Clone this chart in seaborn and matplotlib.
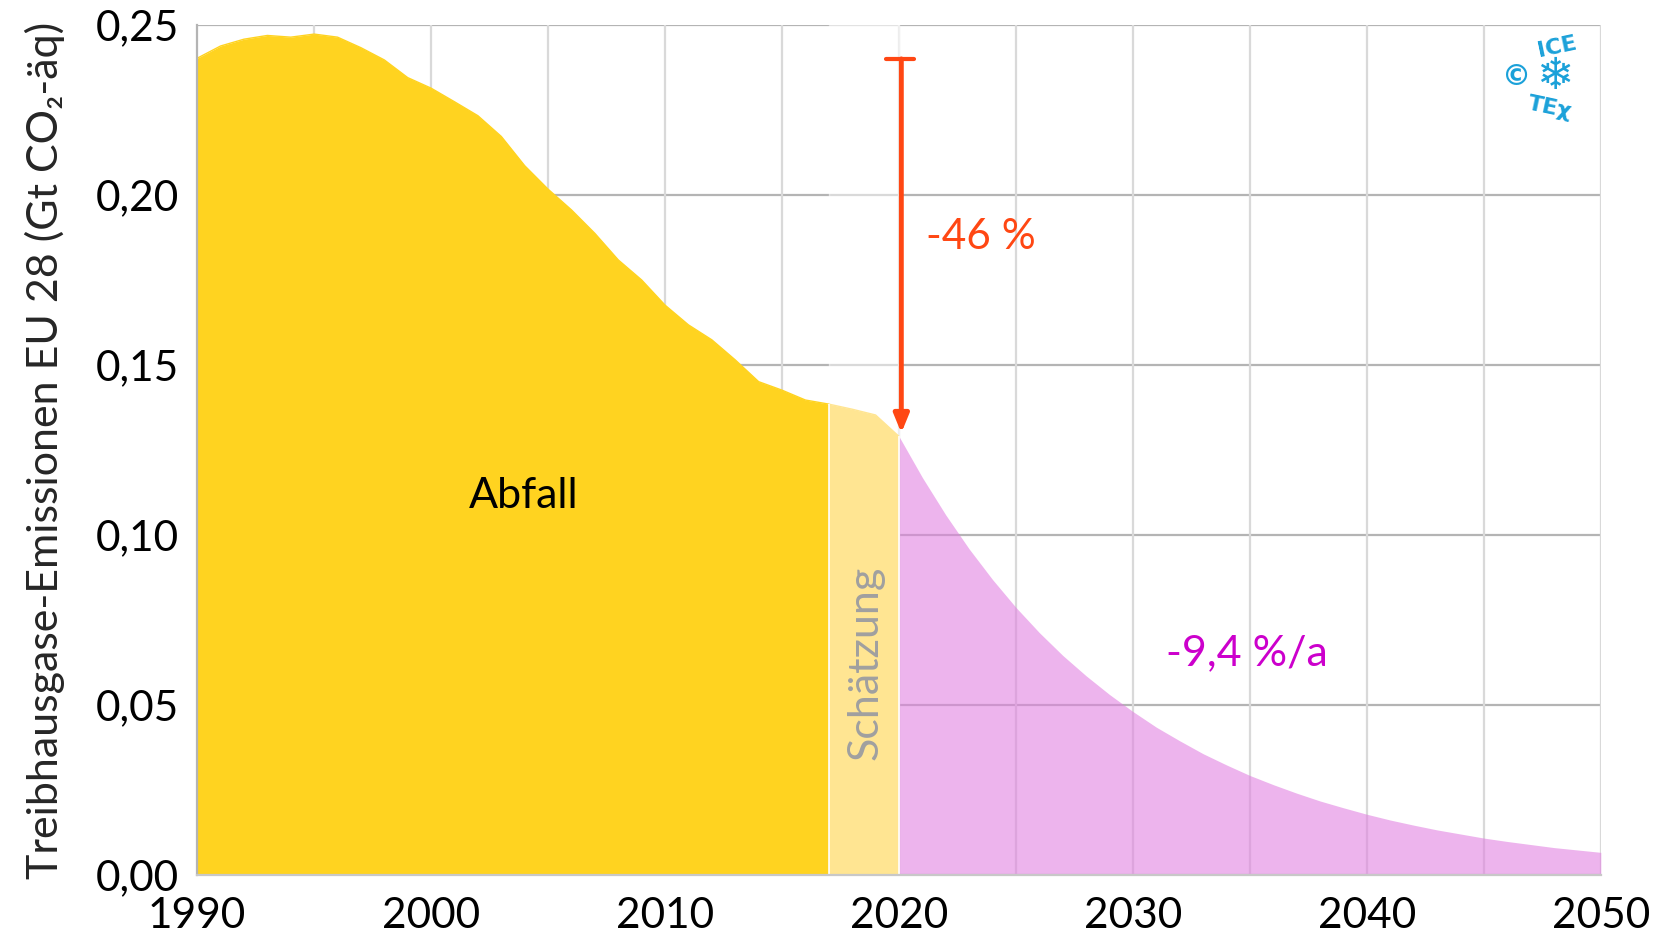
import numpy as np
import pandas as pd
import seaborn as sns
import matplotlib.pyplot as plt

# historic waste emissions EU 28 (Gt CO2-eq)
years_hist = list(range(1990, 2018))
abfall_hist = [0.2402, 0.2438, 0.2458, 0.2469, 0.2464, 0.2473, 0.2464, 0.2433,
               0.2397, 0.2345, 0.2314, 0.2274, 0.2233, 0.2172, 0.2086, 0.2017,
               0.1956, 0.1887, 0.1809, 0.1750, 0.1676, 0.1618, 0.1574, 0.1515,
               0.1451, 0.1426, 0.1397, 0.1385]

# estimate 2017-2020
years_est = [2017, 2018, 2019, 2020]
abfall_est = [0.1385, 0.1370, 0.1353, 0.1290]

# path 2020-2050 (-9,4 %/a)
years_path = list(range(2020, 2051))
abfall_path = [0.1290, 0.1169, 0.1059, 0.0959, 0.0869, 0.0787, 0.0713, 0.0646,
               0.0586, 0.0531, 0.0481, 0.0435, 0.0395, 0.0357, 0.0324, 0.0293,
               0.0266, 0.0241, 0.0218, 0.0198, 0.0179, 0.0162, 0.0147, 0.0133,
               0.0121, 0.0109, 0.0099, 0.0090, 0.0081, 0.0074, 0.0067]

arrow_top = 0.24
x_ticks = [1990, 2000, 2010, 2020, 2030, 2040, 2050]
y_ticks = [0.00, 0.05, 0.10, 0.15, 0.20, 0.25]
y_ticklabels = ["0,00", "0,05", "0,10", "0,15", "0,20", "0,25"]

sns.set_style("white")
plt.rcParams['font.family'] = ['Lato', 'DejaVu Sans']

df_hist = pd.DataFrame({"Jahr": years_hist, "Wert": abfall_hist})
df_est = pd.DataFrame({"Jahr": years_est, "Wert": abfall_est})
df_path = pd.DataFrame({"Jahr": years_path, "Wert": abfall_path})

fig = plt.figure(figsize=(16.71, 9.40), dpi=100)
ax = fig.add_axes([0.118, 0.069, 0.840, 0.9045])

yellow = "#FFD320"
light_yellow = "#FFE592"
pink = "#E07FE0"
red = "#FF4713"

# grid
for yv in y_ticks:
    ax.axhline(yv, color="#b4b4b4", lw=1.6, zorder=0)
for xv in range(1995, 2051, 5):
    ax.axvline(xv, color="#d9d9d9", lw=1.6, zorder=0)
ax.axvspan(years_est[0], years_est[-1], color="white", alpha=0.5, zorder=0.5)

ax.fill_between(df_hist["Jahr"], df_hist["Wert"], color=yellow, lw=0, zorder=1)
ax.fill_between(df_est["Jahr"], df_est["Wert"], color=light_yellow, lw=0, zorder=1)
ax.fill_between(df_path["Jahr"], df_path["Wert"], color=pink, alpha=0.58, lw=0, zorder=2)
sns.lineplot(data=df_hist, x="Jahr", y="Wert", color=yellow, lw=1, ax=ax, zorder=1)
sns.lineplot(data=df_est, x="Jahr", y="Wert", color=light_yellow, lw=1, ax=ax, zorder=1)
ax.vlines([years_est[0], years_est[-1]], 0, [abfall_est[0], abfall_est[-1]],
          color="white", lw=1.2, zorder=2.5)

# reduction arrow
ax.annotate("", xy=(years_est[-1] + 0.1, abfall_est[-1] + 0.001),
            xytext=(years_est[-1] + 0.1, arrow_top),
            arrowprops=dict(arrowstyle="-|>,head_length=1.1,head_width=0.45",
                            color=red, lw=3.5, shrinkA=0, shrinkB=0), zorder=5)
ax.plot([years_est[-1] - 0.55, years_est[-1] + 0.65], [arrow_top, arrow_top],
        color=red, lw=3, zorder=5)
ax.text(2021.15, 0.1877, "-46 %", color=red, fontsize=30.5, va="center", ha="left")

ax.text(2003.95, 0.1116, "Abfall", color="black", fontsize=31, ha="center", va="center")
ax.text(2018.55, 0.0625, "Schätzung", color="#a0a0a0", fontsize=31, rotation=90,
        ha="center", va="center", zorder=3)
ax.text(2034.85, 0.0653, "-9,4 %/a", color="#CC00CC", fontsize=31, ha="center", va="center")

# logo
logo = "#1BA1D9"
ax.text(0.940, 0.939, "©", transform=ax.transAxes, color=logo, fontsize=21,
        fontweight="bold", ha="center", va="center", family=['DejaVu Sans'])
ax.text(0.967, 0.939, "❄", transform=ax.transAxes, color=logo, fontsize=32,
        ha="center", va="center", family=['DejaVu Sans'])
ax.text(0.969, 0.974, "ICE", transform=ax.transAxes, color=logo, fontsize=16,
        fontweight="bold", rotation=12, ha="center", va="center", family=['DejaVu Sans'])
ax.text(0.964, 0.903, "TEχ", transform=ax.transAxes, color=logo, fontsize=16,
        fontweight="bold", rotation=-12, ha="center", va="center", family=['DejaVu Sans'])

ax.set_xlim(1990, 2050)
ax.set_ylim(0, 0.25)
ax.set_xticks(x_ticks)
ax.set_xticklabels([str(x) for x in x_ticks])
ax.set_yticks(y_ticks)
ax.set_yticklabels(y_ticklabels)
ax.tick_params(axis="both", labelsize=30.5, colors="#b4b4b4", labelcolor="black",
               length=8, width=1.6, direction="out")
ax.tick_params(axis="x", pad=8)
ax.tick_params(axis="y", pad=5)
ax.set_xlabel("")
ax.set_ylabel("Treibhausgase-Emissionen EU 28 (Gt CO₂-äq)", fontsize=31, labelpad=22)

for side in ["top", "right"]:
    ax.spines[side].set_visible(False)
ax.spines["left"].set_color("#b4b4b4")
ax.spines["left"].set_linewidth(1.6)
ax.spines["bottom"].set_color("#c8c8c8")
ax.spines["bottom"].set_linewidth(1.6)
ax.spines["left"].set_zorder(3)
ax.spines["bottom"].set_zorder(3)

fig.savefig("out.png", dpi=100)
